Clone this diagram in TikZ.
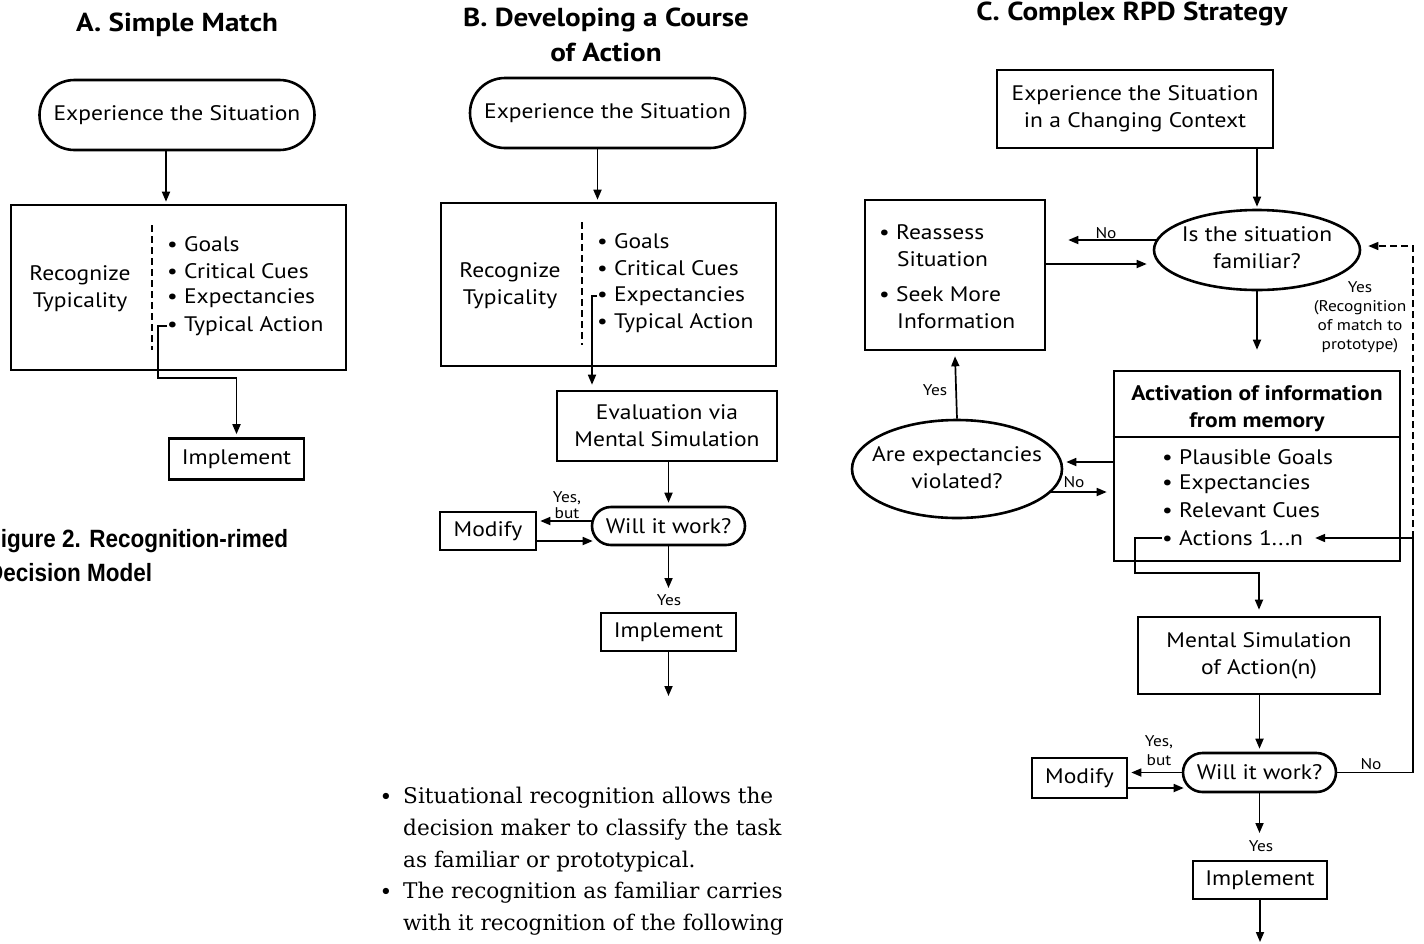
\documentclass[tikz,border=0pt]{standalone}
\usepackage{fontspec}
\setmainfont[FakeStretch=1.12]{PT Sans}
\newfontfamily\myserif{DejaVu Serif}
\newfontfamily\mycap[FakeStretch=0.9]{Liberation Sans}
\usetikzlibrary{arrows.meta,shapes.misc,shapes.geometric,calc}
\newcommand\mybx{\fontsize{21}{27}\selectfont}
\newcommand\myttl{\fontsize{26}{35}\selectfont\bfseries}
\newcommand\mysml{\fontsize{15.5}{19}\selectfont}
\tikzset{
  box/.style={draw, line width=2.6pt, rectangle, inner sep=0pt, align=center, font=\mybx},
  term/.style={draw, line width=2.6pt, rounded rectangle, inner sep=0pt, align=center, font=\mybx},
  ell/.style={draw, line width=2.6pt, ellipse, inner sep=0pt},
  txt/.style={inner sep=0pt, align=center, font=\mybx},
  item/.style={inner sep=0pt, anchor=west, font=\mybx},
  ttl/.style={inner sep=0pt, align=center, font=\myttl},
  lbl/.style={inner sep=0pt, align=center, font=\mysml},
  conn/.style={line width=1.7pt},
  arr/.style={conn, -{Triangle[length=10pt,width=8pt]}},
  dsh/.style={line width=1.4pt, dash pattern=on 7pt off 4pt},
  serif/.style={inner sep=0pt, font=\myserif\fontsize{21.6}{31.75}\selectfont},
}
\begin{document}
\begin{tikzpicture}[x=1pt,y=-1pt]
\useasboundingbox (0,0) rectangle (1424,943);
\clip (0,0) rectangle (1424,943);
\fill[white] (0,0) rectangle (1424,943);

% ---------------- Panel A ----------------
\node[ttl] (tA) at (177,25) {A. Simple Match};
\node[term, minimum width=275, minimum height=70] (eA) at (177,115) {Experience the Situation};
\node[box, minimum width=335, minimum height=165] (rA) at (178.5,287.5) {};
\node[txt] (rAl) at (80,289) {Recognize\\Typicality};
\draw[dsh] (152,225) -- (152,350);
\node[item] (a1) at (167,244) {\textbullet\ Goals};
\node[item] (a2) at (167,271) {\textbullet\ Critical Cues};
\node[item] (a3) at (167,298) {\textbullet\ Expectancies};
\node[item] (a4) at (167,326) {\textbullet\ Typical Action};
\node[box, minimum width=135, minimum height=41] (iA) at (236.5,459) {Implement};
\draw[arr] ($(eA.south)+(-11,0)$) -- ($(eA.south |- rA.north)+(-11,-2)$);
\draw[arr] (a4.west) -| (158,378) -| ($(iA.north)+(0,-3)$);
\node[inner sep=0pt, anchor=north west, align=left, font=\mycap\bfseries\fontsize{25}{34}\selectfont] (cap) at (-13,529) {Figure 2. Recognition-rimed\\Decision Model};

% ---------------- Panel B ----------------
\node[ttl] (tB) at (606,35) {B. Developing a Course\\of Action};
\node[term, minimum width=275, minimum height=70] (eB) at (607.5,113) {Experience the Situation};
\node[box, minimum width=335, minimum height=163] (rB) at (608.5,284.5) {};
\node[txt] (rBl) at (510,286) {Recognize\\Typicality};
\draw[dsh] (582,222) -- (582,345);
\node[item] (b1) at (597,241) {\textbullet\ Goals};
\node[item] (b2) at (597,268) {\textbullet\ Critical Cues};
\node[item] (b3) at (597,296) {\textbullet\ Expectancies};
\node[item] (b4) at (597,323) {\textbullet\ Typical Action};
\draw[arr] ($(eB.south)+(-10,0)$) -- ($(eB.south |- rB.north)+(-10,-2)$);
\node[box, minimum width=220, minimum height=70] (evB) at (667,426) {Evaluation via\\Mental Simulation};
\draw[arr] (b3.west) -| ($(evB.north -| 592,0)+(0,-5)$);
\node[term, minimum width=153, minimum height=38] (wB) at (668.5,526) {Will it work?};
\draw[arr] (evB.south -| wB.north) -- ($(wB.north)+(0,-3)$);
\node[box, minimum width=96, minimum height=38] (mB) at (488,531) {Modify};
\draw[arr] ($(wB.west |- 0,521)+(1,0)$) -- ($(mB.east |- 0,521)+(3,0)$);
\draw[arr] (mB.east |- 0,541) -- ($(wB.west |- 0,541)+(2,0)$);
\node[lbl, font=\fontsize{15.5}{16}\selectfont] (ybB) at (567,505) {Yes,\\but};
\node[box, minimum width=135, minimum height=38] (iB) at (668.5,632) {Implement};
\draw[arr] (wB.south) -- (wB.south |- 0,588);
\node[lbl] (yB) at (669,600) {Yes};
\coordinate (endB) at (668.5,696);
\draw[arr] (iB.south) -- (endB);

% bottom text
\node[serif] (s1b) at (386,799) {\textbullet};
\node[serif, anchor=north west, align=left] (s1) at (403,787) {Situational recognition allows the\\decision maker to classify the task\\as familiar or prototypical.};
\node[serif] (s2b) at (386,894) {\textbullet};
\node[serif, anchor=north west, align=left] (s2) at (403,882) {The recognition as familiar carries\\with it recognition of the following};

% ---------------- Panel C ----------------
\node[ttl] (tC) at (1132,14) {C. Complex RPD Strategy};
\node[box, minimum width=276, minimum height=78] (eC) at (1135,109) {Experience the Situation\\in a Changing Context};
\node[ell, minimum width=206, minimum height=80] (isf) at (1257,250) {};
\node[txt] (isft) at (1257,248) {Is the situation\\familiar?};
\draw[arr] (eC.south -| isf.north) -- ($(isf.north)+(0,-2)$);
\node[box, minimum width=180, minimum height=150] (ra) at (955,275) {};
\node[item] (r1) at (879,232) {\textbullet\ Reassess};
\node[item] (r2) at (897,259) {Situation};
\node[item] (r3) at (879,294) {\textbullet\ Seek More};
\node[item] (r4) at (897,321) {Information};
\draw[arr] ($(isf.west |- 0,240)+(4,0)$) -- ($(ra.east |- 0,240)+(22,0)$);
\node[lbl] (noC1) at (1106,233) {No};
\draw[arr] (ra.east |- 0,264) -- ($(isf.west |- 0,264)+(-6,0)$);

\node[box, minimum width=286, minimum height=190] (act) at (1257,466) {};
\draw[line width=1.7pt] (act.west |- 0,437) -- (act.east |- 0,437);
\node[txt, font=\mybx\bfseries] (actt) at (1257,409) {Activation of information\\from memory};
\node[item] (c1) at (1162,457) {\textbullet\ Plausible Goals};
\node[item] (c2) at (1162,484) {\textbullet\ Expectancies};
\node[item] (c3) at (1162,510) {\textbullet\ Relevant Cues};
\node[item] (c4) at (1162,538) {\textbullet\ Actions 1...n};
\draw[arr] (isf.south) -- ($(isf.south |- act.north)+(0,-20)$);
\node[lbl] (yesR) at (1360,317) {Yes\\(Recognition\\of match to\\prototype)};

\node[ell, minimum width=210, minimum height=98] (aev) at (957,469) {};
\node[txt] (aevt) at (957,468) {Are expectancies\\violated?};
\draw[arr] (act.west |- 0,462) -- ($(aev.east |- 0,462)+(3,0)$);
\draw[arr] ($(aev.east |- 0,492)+(-12,0)$) -- ($(act.west |- 0,492)+(-6,0)$);
\node[lbl] (noC2) at (1074,482) {No};
\draw[arr] (aev.north) -- ($(ra.south)+(0,5)$);
\node[lbl] (yesC2) at (935,390) {Yes};

\node[box, minimum width=242, minimum height=77] (ms) at (1259,655.5) {Mental Simulation\\of Action(n)};
\draw[arr] (c4.west) -| (1135,573) -| ($(ms.north)+(0,-6)$);
\node[term, minimum width=153, minimum height=39] (wC) at (1259.5,772.5) {Will it work?};
\draw[arr] (ms.south -| wC.north) -- ($(wC.north)+(0,-3)$);
\node[box, minimum width=95, minimum height=40] (mC) at (1079.5,778) {Modify};
\draw[arr] (wC.west) -- ($(wC.west -| mC.east)+(3,0)$);
\draw[arr] (mC.east |- 0,788) -- ($(wC.west |- 0,788)+(2,0)$);
\node[lbl] (ybC) at (1159,751) {Yes,\\but};
\coordinate (rc) at (1413,538);
\draw[conn] (wC.east) -| (rc);
\draw[arr] (rc) -- ($(c4.east |- rc)+(12,0)$);
\node[lbl] (noC3) at (1371,764) {No};
\draw[dsh] (rc) -- (1413,246) -- ($(isf.east |- 0,246)+(14,0)$);
\draw[-{Triangle[length=10pt,width=8pt]}, line width=1.4pt] ($(isf.east |- 0,246)+(14,0)$) -- ($(isf.east |- 0,246)+(7,0)$);
\node[box, minimum width=134, minimum height=38] (iC) at (1260,880) {Implement};
\draw[arr] (wC.south) -- (wC.south |- 0,833);
\node[lbl] (yC) at (1261,846) {Yes};
\coordinate (endC) at (1260,942);
\draw[arr] (iC.south) -- (endC);
\end{tikzpicture}
\end{document}
